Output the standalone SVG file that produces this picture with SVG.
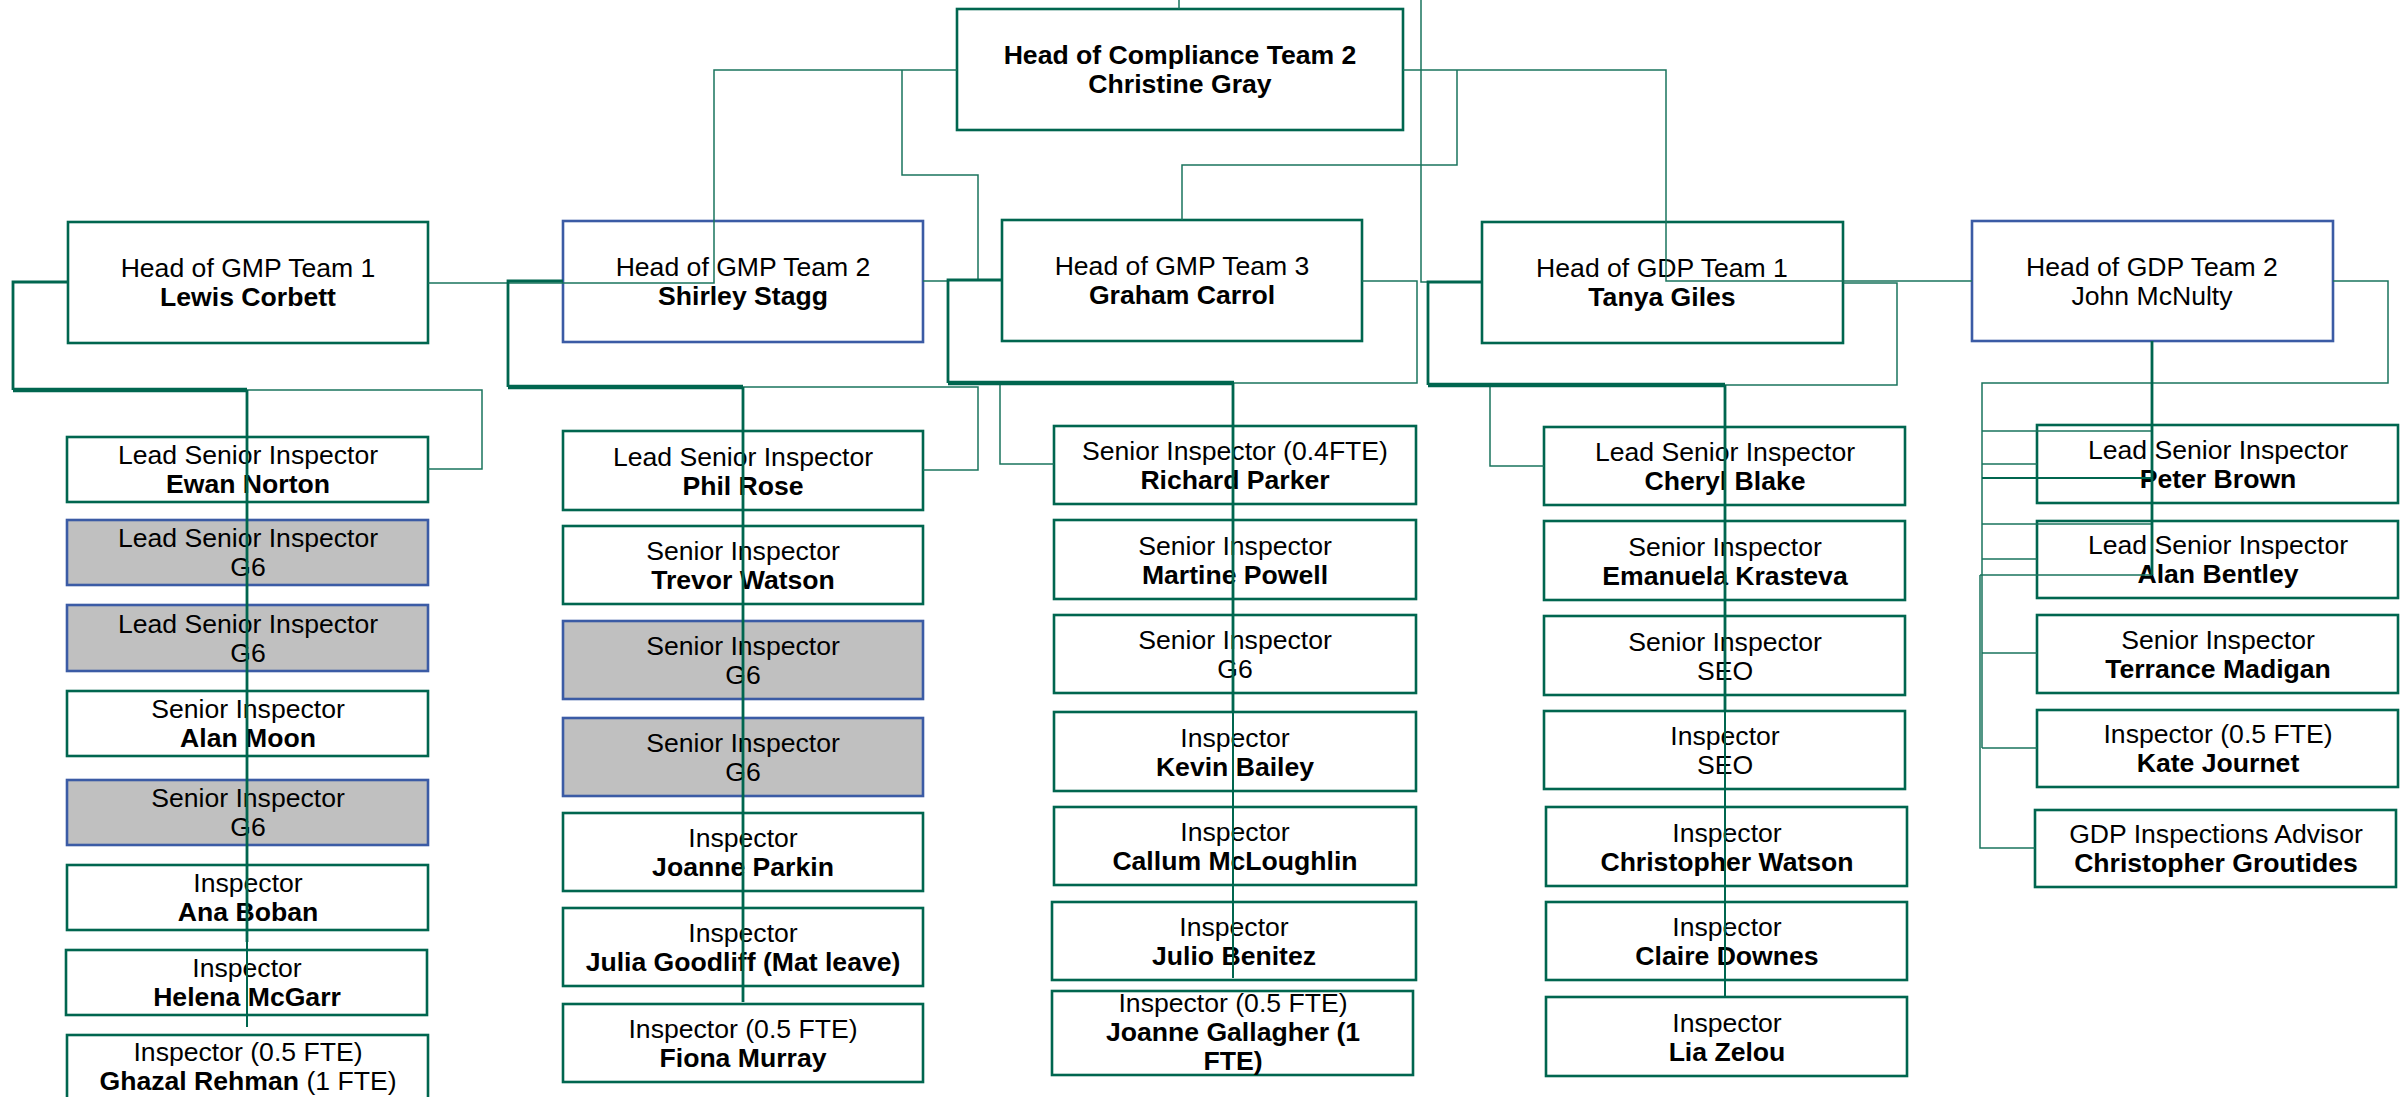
<svg xmlns="http://www.w3.org/2000/svg" width="2407" height="1097" viewBox="0 0 2407 1097">
<style>
.b{fill:#fff;stroke:#00664F;stroke-width:2.6}
.bb{fill:#fff;stroke:#3B5BA5;stroke-width:2.6}
.g{fill:#C0C0C0;stroke:#3B5BA5;stroke-width:2.6}
text{font-family:"Liberation Sans",Arial,sans-serif;font-size:26.6px;fill:#000;text-anchor:middle}
.t{font-weight:bold}
.c{fill:none;stroke:#1A745D;stroke-width:1.5}
.m{fill:none;stroke:#00664F;stroke-width:2.8}
.h{fill:none;stroke:#00664F;stroke-width:4.6}
</style>
<g id="nodes">
<g id="comp"><rect class="b" x="957" y="9" width="446" height="121"/><text x="1180" y="64" class="t">Head of Compliance Team 2</text><text x="1180" y="93" class="t">Christine Gray</text></g>
<g id="gmp1"><rect class="b" x="68" y="222" width="360" height="121"/><text x="248" y="277">Head of GMP Team 1</text><text x="248" y="306" class="t">Lewis Corbett</text></g>
<g id="gmp2"><rect class="bb" x="563" y="221" width="360" height="121"/><text x="743" y="276">Head of GMP Team 2</text><text x="743" y="305" class="t">Shirley Stagg</text></g>
<g id="gmp3"><rect class="b" x="1002" y="220" width="360" height="121"/><text x="1182" y="275">Head of GMP Team 3</text><text x="1182" y="304" class="t">Graham Carrol</text></g>
<g id="gdp1"><rect class="b" x="1482" y="222" width="361" height="121"/><text x="1662" y="277">Head of GDP Team 1</text><text x="1662" y="306" class="t">Tanya Giles</text></g>
<g id="gdp2"><rect class="bb" x="1972" y="221" width="361" height="120"/><text x="2152" y="276">Head of GDP Team 2</text><text x="2152" y="305">John McNulty</text></g>

<g id="ewan"><rect class="b" x="67" y="437" width="361" height="65"/><text x="248" y="464">Lead Senior Inspector</text><text x="248" y="493" class="t">Ewan Norton</text></g>
<g id="g1a"><rect class="g" x="67" y="520" width="361" height="65"/><text x="248" y="547">Lead Senior Inspector</text><text x="248" y="576">G6</text></g>
<g id="g1b"><rect class="g" x="67" y="605" width="361" height="66"/><text x="248" y="633">Lead Senior Inspector</text><text x="248" y="662">G6</text></g>
<g id="alanm"><rect class="b" x="67" y="691" width="361" height="65"/><text x="248" y="718">Senior Inspector</text><text x="248" y="747" class="t">Alan Moon</text></g>
<g id="g1c"><rect class="g" x="67" y="780" width="361" height="65"/><text x="248" y="807">Senior Inspector</text><text x="248" y="836">G6</text></g>
<g id="ana"><rect class="b" x="67" y="865" width="361" height="65"/><text x="248" y="892">Inspector</text><text x="248" y="921" class="t">Ana Boban</text></g>
<g id="helena"><rect class="b" x="66" y="950" width="361" height="65"/><text x="247" y="977">Inspector</text><text x="247" y="1006" class="t">Helena McGarr</text></g>
<g id="ghazal"><rect class="b" x="67" y="1035" width="361" height="66"/><text x="248" y="1061">Inspector (0.5 FTE)</text><text x="248" y="1090"><tspan class="t">Ghazal Rehman</tspan> (1 FTE)</text></g>

<g id="phil"><rect class="b" x="563" y="431" width="360" height="79"/><text x="743" y="466">Lead Senior Inspector</text><text x="743" y="495" class="t">Phil Rose</text></g>
<g id="trevor"><rect class="b" x="563" y="526" width="360" height="78"/><text x="743" y="560">Senior Inspector</text><text x="743" y="589" class="t">Trevor Watson</text></g>
<g id="g2a"><rect class="g" x="563" y="621" width="360" height="78"/><text x="743" y="655">Senior Inspector</text><text x="743" y="684">G6</text></g>
<g id="g2b"><rect class="g" x="563" y="718" width="360" height="78"/><text x="743" y="752">Senior Inspector</text><text x="743" y="781">G6</text></g>
<g id="joannep"><rect class="b" x="563" y="813" width="360" height="78"/><text x="743" y="847">Inspector</text><text x="743" y="876" class="t">Joanne Parkin</text></g>
<g id="julia"><rect class="b" x="563" y="908" width="360" height="78"/><text x="743" y="942">Inspector</text><text x="743" y="971" class="t">Julia Goodliff (Mat leave)</text></g>
<g id="fiona"><rect class="b" x="563" y="1004" width="360" height="78"/><text x="743" y="1038">Inspector (0.5 FTE)</text><text x="743" y="1067" class="t">Fiona Murray</text></g>

<g id="richard"><rect class="b" x="1054" y="426" width="362" height="78"/><text x="1235" y="460">Senior Inspector (0.4FTE)</text><text x="1235" y="489" class="t">Richard Parker</text></g>
<g id="martine"><rect class="b" x="1054" y="520" width="362" height="79"/><text x="1235" y="555">Senior Inspector</text><text x="1235" y="584" class="t">Martine Powell</text></g>
<g id="si3"><rect class="b" x="1054" y="615" width="362" height="78"/><text x="1235" y="649">Senior Inspector</text><text x="1235" y="678">G6</text></g>
<g id="kevin"><rect class="b" x="1054" y="712" width="362" height="79"/><text x="1235" y="747">Inspector</text><text x="1235" y="776" class="t">Kevin Bailey</text></g>
<g id="callum"><rect class="b" x="1054" y="807" width="362" height="78"/><text x="1235" y="841">Inspector</text><text x="1235" y="870" class="t">Callum McLoughlin</text></g>
<g id="julio"><rect class="b" x="1052" y="902" width="364" height="78"/><text x="1234" y="936">Inspector</text><text x="1234" y="965" class="t">Julio Benitez</text></g>
<g id="joanneg"><rect class="b" x="1052" y="991" width="361" height="84"/><text x="1233" y="1012">Inspector (0.5 FTE)</text><text x="1233" y="1041" class="t">Joanne Gallagher (1</text><text x="1233" y="1070" class="t">FTE)</text></g>

<g id="cheryl"><rect class="b" x="1544" y="427" width="361" height="78"/><text x="1725" y="461">Lead Senior Inspector</text><text x="1725" y="490" class="t">Cheryl Blake</text></g>
<g id="emanuela"><rect class="b" x="1544" y="521" width="361" height="79"/><text x="1725" y="556">Senior Inspector</text><text x="1725" y="585" class="t">Emanuela Krasteva</text></g>
<g id="seo1"><rect class="b" x="1544" y="616" width="361" height="79"/><text x="1725" y="651">Senior Inspector</text><text x="1725" y="680">SEO</text></g>
<g id="seo2"><rect class="b" x="1544" y="711" width="361" height="78"/><text x="1725" y="745">Inspector</text><text x="1725" y="774">SEO</text></g>
<g id="chrisw"><rect class="b" x="1546" y="807" width="361" height="79"/><text x="1727" y="842">Inspector</text><text x="1727" y="871" class="t">Christopher Watson</text></g>
<g id="claire"><rect class="b" x="1546" y="902" width="361" height="78"/><text x="1727" y="936">Inspector</text><text x="1727" y="965" class="t">Claire Downes</text></g>
<g id="lia"><rect class="b" x="1546" y="997" width="361" height="79"/><text x="1727" y="1032">Inspector</text><text x="1727" y="1061" class="t">Lia Zelou</text></g>

<g id="peter"><rect class="b" x="2037" y="425" width="361" height="78"/><text x="2218" y="459">Lead Senior Inspector</text><text x="2218" y="488" class="t">Peter Brown</text></g>
<g id="alanb"><rect class="b" x="2037" y="521" width="361" height="77"/><text x="2218" y="554">Lead Senior Inspector</text><text x="2218" y="583" class="t">Alan Bentley</text></g>
<g id="terrance"><rect class="b" x="2037" y="615" width="361" height="78"/><text x="2218" y="649">Senior Inspector</text><text x="2218" y="678" class="t">Terrance Madigan</text></g>
<g id="kate"><rect class="b" x="2037" y="710" width="361" height="77"/><text x="2218" y="743">Inspector (0.5 FTE)</text><text x="2218" y="772" class="t">Kate Journet</text></g>
<g id="advisor"><rect class="b" x="2035" y="810" width="361" height="77"/><text x="2216" y="843">GDP Inspections Advisor</text><text x="2216" y="872" class="t">Christopher Groutides</text></g>
</g>

<g id="connectors">
<path class="c" d="M1179,0V9M1421,0V282H1428M957,70H714V283H428M902,70V175H978V280M1403,70H1666V281H1972M1457,70V165H1182V220"/>
<path class="c" d="M923,281H948M1362,281H1417V383H1234M1843,283H1897V385H1725M2333,281H2388V383H1982V748"/>
<path class="c" d="M247,390H482V469H428M743,387H978V470H923M1000,385V464H1054M1490,387V466H1544"/>
<path class="c" d="M1982,431H2152M1982,464H2037M1982,524H2152M1982,559H2037M1980,575H2152M1980,575V848H2035M1982,653H2037M1982,748H2037"/>
<path class="m" d="M1982,478H2152" style="stroke-width:2"/>
<path class="m" d="M68,282H13V390M563,281H508V387M1002,280H948V383M1482,282H1428V385M2152,341V575"/>
<path class="m" d="M247,390V942M743,387V1002M1233,383V711M1725,385V711"/>
<path class="m" d="M247,942V1027M1233,711V978M1725,711V996" style="stroke-width:2"/>
<path class="h" d="M13,390H247M508,387H743M948,383H1234M1428,385H1725"/>
</g>
</svg>
